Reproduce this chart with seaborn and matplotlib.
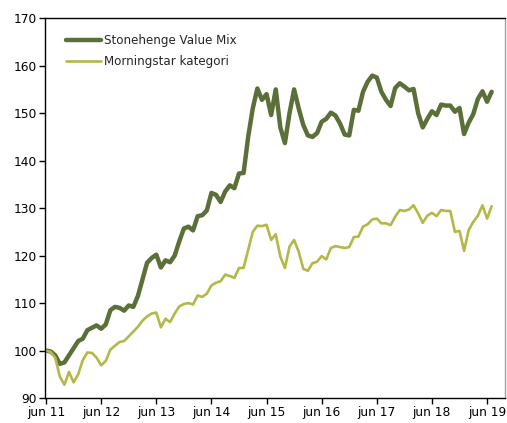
import numpy as np
import pandas as pd
import matplotlib
matplotlib.use("Agg")
import matplotlib.pyplot as plt
import seaborn as sns

# monthly index values, jun 11 -> jul 19
stonehenge = [100, 99.8, 99, 97.2, 97.5, 99, 100.5, 102, 102.5, 104.3,
              104.8, 105.3, 104.6, 105.5, 108.5, 109.2, 109, 108.4, 109.5, 109.2,
              111.5, 115, 118.5, 119.5, 120.2, 117.5, 119, 118.6, 120, 123,
              125.7, 126.1, 125.3, 128.3, 128.5, 129.5, 133.2, 132.8, 131.3, 133.5,
              134.8, 134.2, 137.3, 137.4, 145, 151, 155.2, 152.8, 154, 149.6,
              155, 147, 143.7, 150, 155, 151, 147.5, 145.3, 145, 145.8,
              148.2, 148.8, 150.1, 149.5, 147.8, 145.5, 145.3, 150.7, 150.5, 154.5,
              156.6, 157.9, 157.5, 154.5, 152.8, 151.5, 155.3, 156.3, 155.6, 154.8,
              155.1, 150, 147, 148.8, 150.4, 149.6, 151.8, 151.6, 151.6, 150.3,
              151.1, 145.6, 148, 149.8, 153, 154.6, 152.4, 154.5]
morningstar = [100, 99.7, 98.5, 94.5, 92.8, 95.5, 93.3, 95, 98, 99.6,
               99.5, 98.5, 96.9, 97.8, 100.2, 101, 101.8, 102, 103, 104,
               105, 106.3, 107.2, 107.8, 108, 104.9, 106.7, 106, 107.8, 109.3,
               109.8, 110, 109.7, 111.6, 111.3, 112, 113.7, 114.3, 114.6, 116,
               115.7, 115.3, 117.4, 117.4, 121.2, 125, 126.3, 126.2, 126.5, 123.3,
               124.5, 119.8, 117.4, 121.9, 123.3, 120.8, 117.2, 116.8, 118.4, 118.7,
               119.9, 119.2, 121.6, 122, 121.8, 121.6, 121.8, 123.9, 124, 126.1,
               126.6, 127.6, 127.8, 126.8, 126.8, 126.4, 128.2, 129.6, 129.4, 129.7,
               130.6, 128.9, 126.9, 128.4, 129, 128.3, 129.6, 129.4, 129.4, 125,
               125.2, 121, 125.4, 127.1, 128.4, 130.6, 127.8, 130.4]
tick_labels = ["jun 11", "jun 12", "jun 13", "jun 14", "jun 15",
               "jun 16", "jun 17", "jun 18", "jun 19"]

months = np.arange(len(stonehenge))
df = pd.DataFrame({"month": months, "Stonehenge Value Mix": stonehenge,
                   "Morningstar kategori": morningstar})

sns.set_style("white")
plt.rcParams['font.family'] = ['DejaVu Sans']

fig = plt.figure(figsize=(5.07, 4.23), dpi=100)
ax = fig.add_axes([0.089, 0.059, 0.907, 0.898])

sns.lineplot(data=df, x="month", y="Stonehenge Value Mix", ax=ax,
             color="#5b6f38", linewidth=3.2, label="Stonehenge Value Mix")
sns.lineplot(data=df, x="month", y="Morningstar kategori", ax=ax,
             color="#b3b848", linewidth=1.9, label="Morningstar kategori")

ax.set_xlim(-0.2, 99.9)
ax.set_ylim(90, 170)
ax.set_xticks(np.arange(0, 12 * len(tick_labels), 12))
ax.set_xticklabels(tick_labels)
ax.set_yticks(np.arange(90, 171, 10))
ax.set_xlabel("")
ax.set_ylabel("")
ax.tick_params(axis="both", labelsize=8.8, colors="black", direction="out",
               length=4, width=1, bottom=True, left=True, pad=2)

for side in ["left", "bottom", "top"]:
    ax.spines[side].set_color("black")
    ax.spines[side].set_linewidth(1)
ax.spines["right"].set_color("#a0a0a0")
ax.spines["right"].set_linewidth(1)

leg = ax.legend(loc="upper left", frameon=False, fontsize=8.6,
                handlelength=2.9, handletextpad=0.25, borderaxespad=0.0,
                bbox_to_anchor=(0.035, 0.97), labelspacing=0.62)

fig.savefig("out.png", dpi=100)
